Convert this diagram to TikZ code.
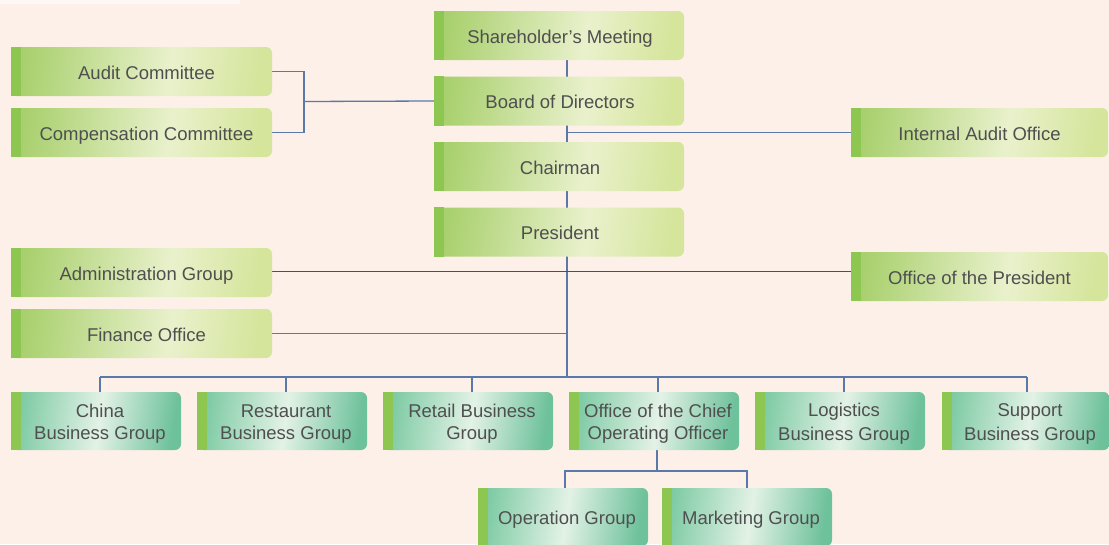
\documentclass[tikz,border=0pt]{standalone}
\usepackage{fontspec}
\setmainfont{Liberation Sans}
\usetikzlibrary{positioning}
\definecolor{bgpeach}{HTML}{FDF0E9}
\definecolor{barGreen}{HTML}{8DC751}
\definecolor{lineBlue}{HTML}{5A78A8}
\definecolor{lineNavy}{HTML}{2D5592}
\definecolor{txtGray}{HTML}{4F4F4F}
\definecolor{gA}{HTML}{A9D06E}
\definecolor{gB}{HTML}{E9F1CC}
\definecolor{gC}{HTML}{D5E59B}
\definecolor{tA}{HTML}{7DCAA4}
\definecolor{tB}{HTML}{E3F2E6}
\definecolor{tC}{HTML}{6DC19B}
\pgfdeclarehorizontalshading{greenshade}{100bp}{color(0bp)=(gA); color(25bp)=(gA); color(56bp)=(gB); color(75bp)=(gC); color(100bp)=(gC)}
\pgfdeclarehorizontalshading{tealshade}{100bp}{color(0bp)=(tA); color(25bp)=(tA); color(51bp)=(tB); color(75bp)=(tC); color(100bp)=(tC)}
\pgfdeclarelayer{background}
\pgfsetlayers{background,main}
\newlength{\padw}
\setlength{\padw}{8pt}
\newcommand{\pad}{\hspace*{\padw}\rule[-3.5pt]{0pt}{22.5pt}}
\tikzstyle{unit} = [font=\fontsize{18.5}{22.5}\selectfont, text=txtGray, rectangle, rounded corners=6pt, minimum width=250pt, minimum height=49pt, align=center, inner sep=0pt, shade, shading=greenshade, shading angle=-8]
\tikzstyle{leftunit} = [unit, minimum width=261pt, execute at begin node={\setlength{\padw}{10pt}}]
\tikzstyle{midunit} = [unit, execute at begin node={\setlength{\padw}{2pt}}]
\tikzstyle{rightunit} = [unit, minimum width=257pt, execute at begin node={\setlength{\padw}{0pt}}]
\tikzstyle{group} = [unit, minimum width=170pt, minimum height=58pt, shading=tealshade]
\tikzstyle{link} = [draw=lineBlue, line width=1.3pt]

\begin{document}
\begin{tikzpicture}[x=1pt, y=-1pt, node distance=65.5pt]
  \useasboundingbox (0,0) rectangle (1109,544);
  % centre column
  \node (share) [midunit] at (559,35.5) {\pad Shareholder's Meeting};
  \node (board) [midunit, below of=share] {\pad Board of Directors};
  \node (chair) [midunit, below of=board] {\pad Chairman};
  \node (pres) [midunit, below of=chair] {\pad President};
  % left and right staff units
  \node (audit) [leftunit] at (141.5,71.5) {\pad Audit Committee};
  \node (comp) [leftunit] at (141.5,132.5) {\pad Compensation Committee};
  \node (admin) [leftunit] at (141.5,272.5) {\pad Administration Group};
  \node (finance) [leftunit] at (141.5,333.5) {\pad Finance Office};
  \node (intaudit) [rightunit] at (979.5,132.5) {\pad Internal Audit Office};
  \node (offpres) [rightunit] at (979.5,276.5) {\pad Office of the President};
  % business groups
  \node (china) [group] at (96,421) {\pad China\\\pad Business Group};
  \node (restaurant) [group, right of=china, xshift=120.5pt] {\pad Restaurant\\\pad Business Group};
  \node (retail) [group, right of=restaurant, xshift=120.5pt] {\pad Retail Business\\\pad Group};
  \node (coo) [group, right of=retail, xshift=120.5pt] {\pad Office of the Chief\\\pad Operating Officer};
  \node (logistics) [group, right of=coo, xshift=120.5pt] {\pad Logistics\\\pad Business Group};
  \node (support) [group, right of=logistics, xshift=120.5pt, minimum width=167pt] {\pad Support\\\pad Business Group};
  \node (operation) [group] at (563,517) {\pad Operation Group};
  \node (marketing) [group] at (747,517) {\pad Marketing Group};
  % green bars on the left edge
  \foreach \n in {share,board,chair,pres,audit,comp,admin,finance,intaudit,offpres,
                  china,restaurant,retail,coo,logistics,support,operation,marketing}
    \fill[barGreen] (\n.south west) rectangle ([xshift=10pt]\n.north west);
  \coordinate (bracket) at (304,101.5);
  \coordinate (bus) at (567,377);
  \coordinate (subbus) at (657,471);
  \begin{pgfonlayer}{background}
    \fill[bgpeach] (0,0) rectangle (1109,544);
    \fill[white!55!bgpeach] (0,0) rectangle (240,4);
    \draw[link] ([xshift=8pt]share.south) -- (bus);
    \draw[link] (audit.east) -| (bracket) |- (comp.east);
    \draw[link] (bracket) -- (board.west);
    \draw[link] (intaudit.west) -- (intaudit.west -| bus);
    \draw[link, draw=lineNavy, line width=1pt] ([yshift=1pt]admin.east) -- ([yshift=1pt]admin.east -| offpres.west);
    \draw[link] (finance.east) -- (finance.east -| bus);
    \draw[link] ([xshift=4pt]china.north |- bus) -- ([xshift=1pt]support.north |- bus);
    \foreach \n in {china,restaurant,retail,coo,logistics}
      \draw[link] ([xshift=4pt]\n.north) -- ([xshift=4pt]\n.north |- bus);
    \draw[link] ([xshift=1pt]support.north) -- ([xshift=1pt]support.north |- bus);
    \draw[link] (coo.south -| subbus) -- (subbus);
    \draw[link] ([xshift=2pt]operation.north) |- (subbus) -| (marketing.north);
  \end{pgfonlayer}
\end{tikzpicture}
\end{document}
